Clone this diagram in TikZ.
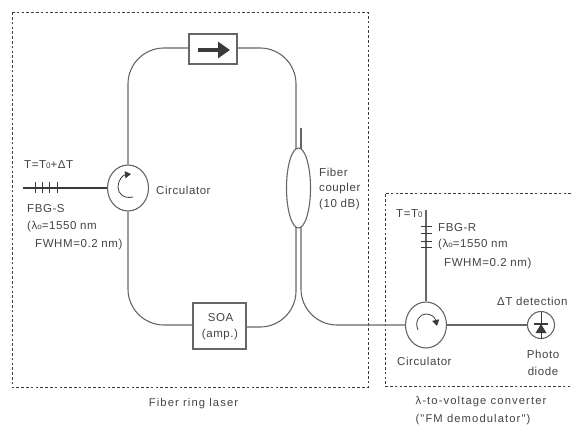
\documentclass[tikz,border=0pt]{standalone}
\usepackage{fontspec}
\setmainfont{Liberation Sans}
\newfontfamily\lblwide[LetterSpace=5]{Liberation Sans}
\newfontfamily\lblcap[LetterSpace=10]{Liberation Sans}
\usetikzlibrary{shapes.geometric,arrows.meta}
\definecolor{wirec}{HTML}{666666}
\definecolor{inkc}{HTML}{444444}
\definecolor{darkc}{HTML}{3A3A3A}
\newcommand{\lowz}[1]{{\fontsize{8}{8}\selectfont #1}}
\tikzset{
  x=1pt,y=-1pt,
  wire/.style={draw=wirec,line width=1.1pt},
  frame/.style={draw=darkc,line width=0.8pt,dash pattern=on 2.6pt off 2.2pt},
  part/.style={draw=wirec,line width=1.1pt,fill=white,inner sep=0pt,minimum width=0pt},
  circ/.style={part,ellipse,minimum width=41pt,minimum height=46pt},
  lbl/.style={text=inkc,inner sep=0pt,anchor=west,font=\fontsize{11.5}{12}\selectfont},
  lblw/.style={lbl,font=\fontsize{11.5}{12}\selectfont\lblwide},
  captxt/.style={text=inkc,inner sep=0pt,font=\fontsize{11.2}{12}\selectfont\lblcap},
  grating/.style={draw=darkc,line width=0.8pt},
  spin/.style={draw=darkc,line width=0.8pt,-{Triangle[length=6pt,width=7pt,fill=darkc]}}
}
\begin{document}
\begin{tikzpicture}
\useasboundingbox (0,0) rectangle (571,428);
\fill[white] (0,0) rectangle (571,428);
% frames
\coordinate (fa) at (12,12); \coordinate (fb) at (368,12); \coordinate (fc) at (368,387); \coordinate (fd) at (12,387);
\draw[frame] (fa) -- (fb) -- (fc) -- (fd) -- cycle;
\coordinate (ga) at (571,193); \coordinate (gb) at (385,193); \coordinate (gc) at (385,386); \coordinate (gd) at (571,386);
\draw[frame] (ga) -- (gb) -- (gc) -- (gd);
% parts
\node[circ] (cl) at (128,188) {};
\node[circ] (cr) at (426,325) {};
\node[part,minimum width=48pt,minimum height=30pt] (iso) at (213,49) {};
\node[part,minimum width=53pt,minimum height=46pt] (soa) at (219.5,326) {};
\node[part,ellipse,minimum width=24pt,minimum height=80pt] (cpl) at (298.5,188) {};
\node[part,circle,minimum size=27pt] (pd) at (541,325) {};
% coupler ports
\coordinate (cplul) at (296,149); \coordinate (cplur) at (301,149);
\coordinate (cplll) at (296,227); \coordinate (cpllr) at (301,227);
\coordinate (cpltop) at (301,128);
% ring and wiring
\draw[wire,rounded corners=36pt] (cl.north) -- (128,48) -- (iso.west |- 0,48);
\draw[wire,rounded corners=36pt] (iso.east |- 0,48) -- (296,48) -- (cplul);
\draw[wire,rounded corners=36pt] (cl.south) -- (128,325) -- (soa.west |- 0,325);
\draw[wire,rounded corners=36pt] (soa.east |- 0,327) -- (296,327) -- (cplll);
\draw[wire] (cpltop) -- (cplur);
\draw[wire,rounded corners=36pt] (cpllr) -- (301,325) -- (cr.west);
\coordinate (fbgs) at (23,188);
\draw[wire,draw=darkc] (fbgs) -- (cl.west);
\coordinate (fbgr) at (426,210);
\draw[wire] (fbgr) -- (cr.north);
\draw[wire] (cr.east) -- (pd.west);
% gratings
\foreach \gx/\gn in {35/a,42/b,49/c,57/d}{
  \coordinate (s\gn) at (\gx,182); \coordinate (e\gn) at (\gx,193);
  \draw[grating] (s\gn) -- (e\gn);
}
\foreach \gy/\gn in {226/a,233/b,241/c,247/d}{
  \coordinate (p\gn) at (421,\gy); \coordinate (q\gn) at (432,\gy);
  \draw[grating] (p\gn) -- (q\gn);
}
% circulator arrows
\coordinate (la) at (133,197); \coordinate (lb) at (118,187); \coordinate (lc) at (131,174);
\draw[spin] (la) .. controls (124,199) and (118,194) .. (lb) .. controls (118,180) and (123,175) .. (lc);
\coordinate (ra) at (418,330); \coordinate (rb) at (426,314); \coordinate (rc) at (437,326);
\draw[spin] (ra) .. controls (414,321) and (420,314) .. (rb) .. controls (431,314) and (435,317) .. (rc);
% isolator arrow
\coordinate (ia) at (198,50); \coordinate (ib) at (230,50);
\draw[darkc,line width=4.5pt,-{Triangle[length=12pt,width=16pt,fill=darkc]}] (ia) -- (ib);
% photodiode
\coordinate (pt) at (541,312); \coordinate (pb) at (541,339);
\draw[darkc,line width=0.9pt] (pt) -- (pb);
\coordinate (pl) at (534,324); \coordinate (pr) at (548,324);
\draw[darkc,line width=1.1pt] (pl) -- (pr);
\coordinate (ta) at (541,324); \coordinate (tb) at (535.5,333); \coordinate (tc) at (546.5,333);
\fill[darkc] (ta) -- (tb) -- (tc) -- cycle;
% labels
\node[lblw] (t1) at (24,165) {T=T\lowz{0}+ΔT};
\node[lblw] (t2) at (27,209) {FBG-S};
\node[lblw] (t3) at (27,227) {(λ\lowz{o}=1550 nm};
\node[lblw] (t4) at (35,245) {FWHM=0.2 nm)};
\node[lblw] (t5) at (156,190) {Circulator};
\node[lblw] (t6) at (319,172) {Fiber};
\node[lblw] (t7) at (319,189) {coupler};
\node[lblw] (t8) at (319,205) {(10 dB)};
\node[lblw,anchor=center] (t9) at (220.5,318) {SOA};
\node[lblw,anchor=center] (t10) at (220,335) {(amp.)};
\node[captxt] (t11) at (193.5,404) {Fiber ring laser};
\node[lblw] (t12) at (396,214) {T=T\lowz{0}};
\node[lblw] (t13) at (438,228) {FBG-R};
\node[lblw] (t14) at (438,245) {(λ\lowz{o}=1550 nm};
\node[lblw] (t15) at (444,264) {FWHM=0.2 nm)};
\node[lblw] (t16) at (497,301) {ΔT detection};
\node[lblw] (t17) at (397,361) {Circulator};
\node[lblw,anchor=center] (t18) at (543,354) {Photo};
\node[lblw,anchor=center] (t19) at (543,371) {diode};
\node[captxt] (t20) at (481,402) {λ-to-voltage converter};
\node[captxt] (t21) at (473,420) {("FM demodulator")};
\end{tikzpicture}
\end{document}
